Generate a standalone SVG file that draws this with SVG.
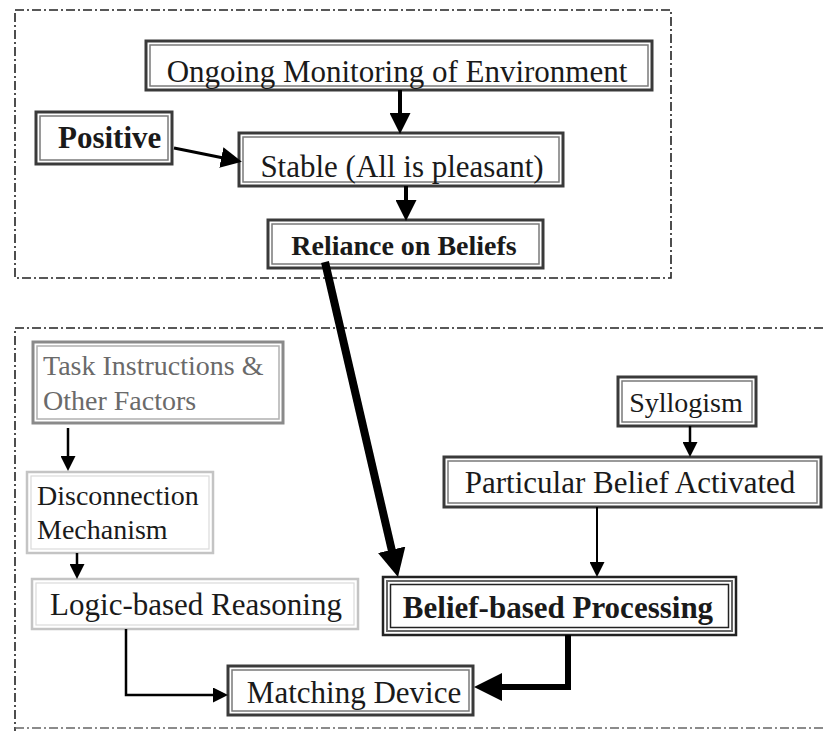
<svg xmlns="http://www.w3.org/2000/svg" width="823" height="731" viewBox="0 0 823 731">
<defs>
<style>
.bg{fill:#ffffff}
.frame{fill:none;stroke:#222;stroke-width:1.6;stroke-dasharray:9 3 2 3}
.o{fill:#fff;stroke:#3a3a3a;stroke-width:3}
.i{fill:none;stroke:#7a7a7a;stroke-width:1.5}
.og{fill:#fff;stroke:#8a8a8a;stroke-width:3}
.ig{fill:none;stroke:#b0b0b0;stroke-width:1.5}
.ol{fill:#fff;stroke:#c4c4c4;stroke-width:2.5}
.il{fill:none;stroke:#dadada;stroke-width:1.2}
.t{font-family:"Liberation Serif","Times New Roman",serif;font-size:31px;fill:#1a1a1a}
.tm{text-anchor:middle}
.b{font-weight:bold}
.s28{font-size:28px}
.gray{fill:#6a6a6a}
.c{fill:none;stroke:#000;stroke-linecap:butt;stroke-linejoin:miter}
</style>
<marker id="a1" markerUnits="userSpaceOnUse" markerWidth="15" markerHeight="15" refX="1" refY="7.5" orient="auto"><path d="M0,0 L15,7.5 L0,15 z" fill="#000"/></marker>
<marker id="a3" markerUnits="userSpaceOnUse" markerWidth="21" markerHeight="21" refX="1" refY="10.5" orient="auto"><path d="M0,0 L21,10.5 L0,21 z" fill="#000"/></marker>
<marker id="a2" markerUnits="userSpaceOnUse" markerWidth="28" markerHeight="28" refX="1" refY="14" orient="auto"><path d="M0,0 L28,14 L0,28 z" fill="#000"/></marker>
</defs>
<rect class="bg" x="0" y="0" width="823" height="731"/>
<g id="frames">
<rect class="frame" x="15" y="10" width="656" height="268"/>
<path class="frame" d="M823,328 H15 V731"/>
<path class="frame" d="M15,728 H823" style="stroke:#666"/>
</g>
<g id="n-ongoing">
<rect class="o" x="146" y="41" width="506" height="49"/>
<rect class="i" x="150" y="45" width="498" height="41"/>
<text class="t tm" x="397" y="82">Ongoing Monitoring of Environment</text>
</g>
<g id="n-positive">
<rect class="o" x="36" y="112" width="136" height="52"/>
<rect class="i" x="40" y="116" width="128" height="44"/>
<text class="t b" x="58" y="148">Positive</text>
</g>
<g id="n-stable">
<rect class="o" x="239" y="133" width="324" height="53"/>
<rect class="i" x="243" y="137" width="316" height="45"/>
<text class="t tm" x="402" y="177">Stable (All is pleasant)</text>
</g>
<g id="n-reliance">
<rect class="o" x="268" y="220" width="275" height="48"/>
<rect class="i" x="272" y="224" width="267" height="40"/>
<text class="t tm b s28" x="404" y="255">Reliance on Beliefs</text>
</g>
<g id="n-task">
<rect class="og" x="33" y="342" width="250" height="81"/>
<rect class="ig" x="37" y="346" width="242" height="73"/>
<text class="t s28 gray" x="43" y="375">Task Instructions &amp;</text>
<text class="t s28 gray" x="43" y="410">Other Factors</text>
</g>
<g id="n-disconnection">
<rect class="ol" x="27" y="472" width="186" height="81"/>
<rect class="il" x="31" y="476" width="178" height="73"/>
<text class="t s28" x="37" y="505">Disconnection</text>
<text class="t s28" x="37" y="539">Mechanism</text>
</g>
<g id="n-logic">
<rect class="ol" x="32" y="579" width="326" height="50"/>
<rect class="il" x="36" y="583" width="318" height="42"/>
<text class="t tm" x="196" y="615">Logic-based Reasoning</text>
</g>
<g id="n-syllogism">
<rect class="o" x="618" y="377" width="138" height="49"/>
<rect class="i" x="622" y="381" width="130" height="41"/>
<text class="t tm s28" x="686" y="412">Syllogism</text>
</g>
<g id="n-particular">
<rect class="o" x="444" y="457" width="377" height="50"/>
<rect class="i" x="448" y="461" width="369" height="42"/>
<text class="t tm" x="630" y="493">Particular Belief Activated</text>
</g>
<g id="n-belief">
<rect x="383" y="577" width="353" height="58" fill="#fff" stroke="#222" stroke-width="2.5"/>
<rect x="387" y="581" width="345" height="50" fill="none" stroke="#666" stroke-width="2"/>
<rect x="390.5" y="584.5" width="338" height="43" fill="none" stroke="#222" stroke-width="1.5"/>
<text class="t tm b" x="558" y="618">Belief-based Processing</text>
</g>
<g id="n-matching">
<rect class="o" x="228" y="666" width="245" height="49"/>
<rect class="i" x="232" y="670" width="237" height="41"/>
<text class="t tm" x="354" y="703">Matching Device</text>
</g>
<g id="connectors">
<path class="c" d="M400,90 V114" stroke-width="4" marker-end="url(#a3)"/>
<path class="c" d="M406,186 V201" stroke-width="4" marker-end="url(#a3)"/>
<path class="c" d="M174,148 L222.3,157.7" stroke-width="3" marker-end="url(#a3)"/>
<path class="c" d="M68,428 V457" stroke-width="2.5" marker-end="url(#a1)"/>
<path class="c" d="M77,553 V565" stroke-width="2.5" marker-end="url(#a1)"/>
<path class="c" d="M690,426 V443" stroke-width="2.5" marker-end="url(#a1)"/>
<path class="c" d="M597,507 V563" stroke-width="2" marker-end="url(#a1)"/>
<path class="c" d="M126,629 V695 H214" stroke-width="2.5" marker-end="url(#a1)"/>
<path class="c" d="M568,635 V687 H501" stroke-width="6" marker-end="url(#a2)"/>
<path class="c" d="M325,262 L391.9,550.7" stroke-width="8" marker-end="url(#a2)"/>
</g>
</svg>
